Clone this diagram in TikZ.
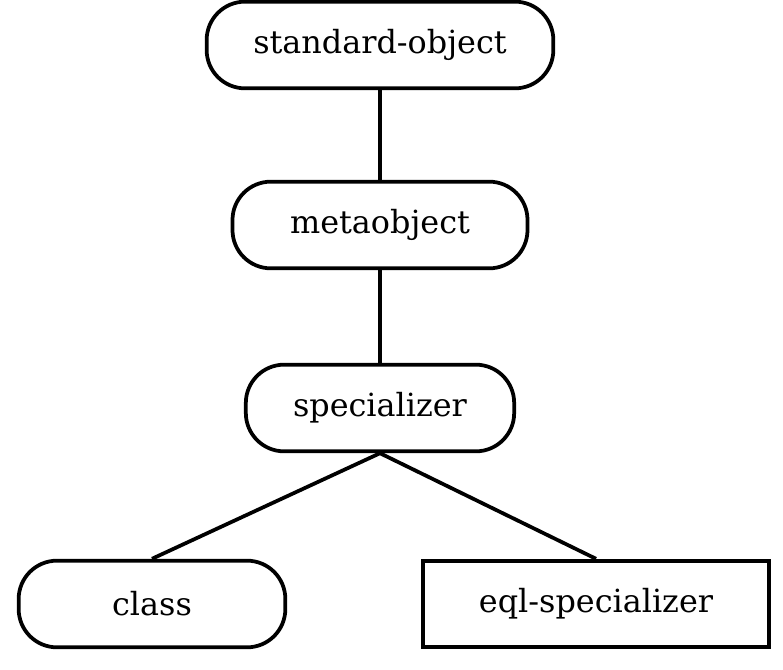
\documentclass[tikz,border=0pt]{standalone}
\usepackage{fontspec}
\setmainfont{DejaVu Serif}

\begin{document}
\begin{tikzpicture}[x=0.03cm,y=-0.03cm,line width=3.2pt,
    every node/.style={font=\fontsize{27.2}{32}\selectfont},
    roundbox/.style={draw,rounded corners=1.15cm,minimum height=2.6cm,inner sep=0pt},
    squarebox/.style={draw,minimum height=2.6cm,inner sep=0pt}]
    \useasboundingbox (0,0) rectangle (783,669);
    \node[roundbox,minimum width=10.4cm] (stdobj) at (380,45) {standard-object};
    \node[roundbox,minimum width=8.85cm] (metaobj) at (380,225) {metaobject};
    \node[roundbox,minimum width=8.05cm] (spec) at (380,408) {specializer};
    \node[roundbox,minimum width=8.0cm] (cls) at (152,604) {class};
    \node[squarebox,minimum width=10.4cm] (eqlspec) at (596,604) {eql-specializer};
    \draw (stdobj) -- (metaobj) (metaobj) -- (spec);
    \draw (spec.south) -- (cls.north) (spec.south) -- (eqlspec.north);
\end{tikzpicture}
\end{document}
